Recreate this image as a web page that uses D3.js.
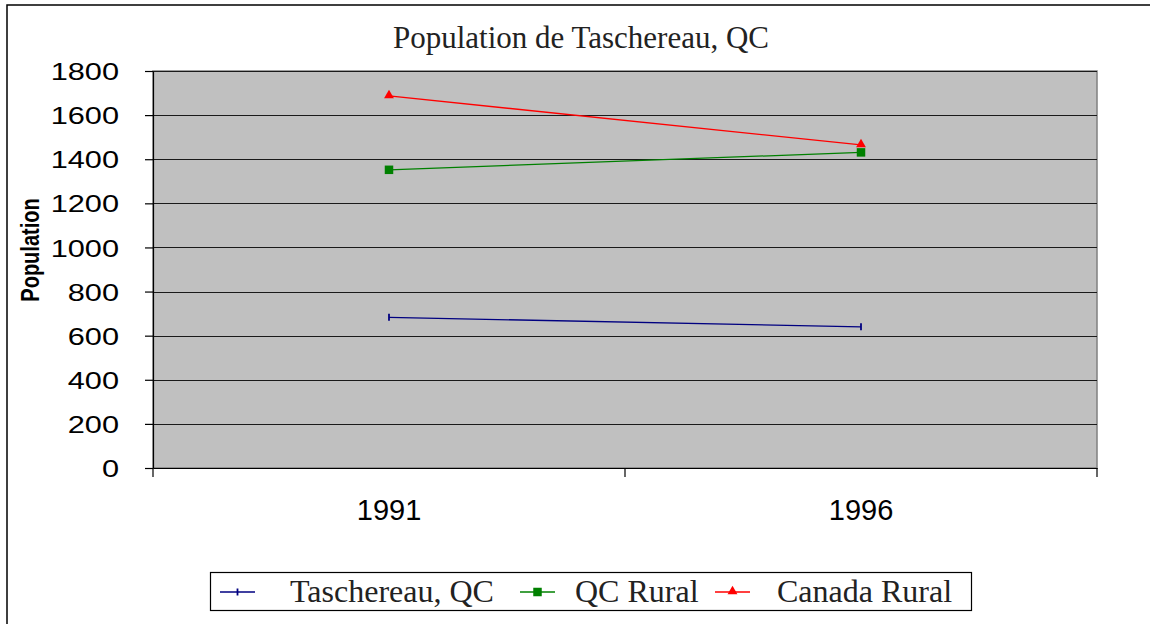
<!DOCTYPE html>
<html><head><meta charset="utf-8">
<script src="https://cdn.jsdelivr.net/npm/d3@7"></script>
<style>html,body{margin:0;padding:0;background:#fff;}svg{display:block;}</style>
</head><body>
<svg id="c" width="1150" height="624"></svg>
<script>
const categories = ["1991", "1996"];
const taschereau = [683, 640];
const qcRural = [1352, 1431];
const canadaRural = [1687, 1465];
const yTicks = [0, 200, 400, 600, 800, 1000, 1200, 1400, 1600, 1800];
const seriesNames = ["Taschereau, QC", "QC Rural", "Canada Rural"];
const titleText = "Population de Taschereau, QC";
const yTitle = "Population";

const svg = d3.select("#c");
const W = 1150, H = 624;
const m = {left: 153, right: 1097, top: 71, bottom: 468};

svg.append("rect").attr("width", W).attr("height", H).attr("fill", "#fff");
// outer chart border
svg.append("rect").attr("x", 7).attr("y", 5).attr("width", 1200).attr("height", 700)
  .attr("fill", "none").attr("stroke", "#000").attr("stroke-width", 1.5);

const x = d3.scaleBand().domain(categories).range([m.left, m.right]).padding(0);
const y = d3.scaleLinear().domain([0, 1800]).range([m.bottom, m.top]);

// plot area
svg.append("rect").attr("x", m.left).attr("y", m.top)
  .attr("width", m.right - m.left).attr("height", m.bottom - m.top)
  .attr("fill", "#C0C0C0").attr("stroke", "#808080").attr("stroke-width", 1.5);

// gridlines
svg.append("g").selectAll("line").data(yTicks.filter(d => d > 0)).join("line")
  .attr("x1", m.left).attr("x2", m.right)
  .attr("y1", d => Math.round(y(d)) + 0.5).attr("y2", d => Math.round(y(d)) + 0.5)
  .attr("stroke", "#1a1a1a").attr("stroke-width", 1.2);

// y axis
const yAxis = svg.append("g").attr("transform", `translate(${m.left},0)`)
  .call(d3.axisLeft(y).tickValues(yTicks).tickFormat(d3.format("d"))
    .tickSize(8).tickPadding(26).tickSizeOuter(0));
yAxis.select(".domain").attr("stroke", "#000").attr("stroke-width", 1.2);
yAxis.selectAll(".tick line").attr("stroke", "#000").attr("stroke-width", 1.2);
yAxis.selectAll(".tick text")
  .attr("font-family", "'Liberation Sans', Arial, sans-serif").attr("font-size", 24)
  .attr("fill", "#000").attr("dy", "0.36em")
  .each(function() {
    const w = this.getComputedTextLength();
    d3.select(this).attr("textLength", w * 1.28).attr("lengthAdjust", "spacingAndGlyphs");
  });

// x axis
const xAxis = svg.append("g").attr("transform", `translate(0,${m.bottom})`)
  .call(d3.axisBottom(x).tickSize(0).tickPadding(31));
xAxis.select(".domain").attr("stroke", "#000").attr("stroke-width", 1.2);
xAxis.selectAll(".tick text")
  .attr("font-family", "'Liberation Sans', Arial, sans-serif").attr("font-size", 29)
  .attr("fill", "#000");
// boundary ticks between categories
const bounds = [x.range()[0]].concat(categories.map(c => x(c) + x.bandwidth()));
xAxis.selectAll(".bt").data(bounds).join("line").attr("class", "bt")
  .attr("x1", d => d).attr("x2", d => d).attr("y1", 0).attr("y2", 9)
  .attr("stroke", "#000").attr("stroke-width", 1.2);

// title
svg.append("text").attr("x", 581).attr("y", 48).attr("text-anchor", "middle")
  .attr("font-family", "'Liberation Serif', 'Times New Roman', serif").attr("font-size", 31)
  .attr("fill", "#222").text(titleText);

// y title (glyphs widened horizontally like the reference)
svg.append("text").attr("transform", "translate(39,250) scale(1.3,1) rotate(-90)")
  .attr("text-anchor", "middle")
  .attr("font-family", "'Liberation Sans', Arial, sans-serif").attr("font-size", 20)
  .attr("font-weight", "bold").attr("fill", "#000").text(yTitle);

const colors = ["#000080", "#008000", "#FF0000"];
const data = [taschereau, qcRural, canadaRural];
const cx = c => x(c) + x.bandwidth() / 2;
const line = d3.line().x((d, i) => cx(categories[i])).y(d => y(d));

function marker(g, k, px, py) {
  if (k === 0) {
    g.append("line").attr("x1", px).attr("x2", px).attr("y1", py - 3.5).attr("y2", py + 3.5)
      .attr("stroke", colors[0]).attr("stroke-width", 1.8);
  } else if (k === 1) {
    g.append("rect").attr("x", px - 4.25).attr("y", py - 4.25).attr("width", 8.5).attr("height", 8.5)
      .attr("fill", colors[1]);
  } else {
    g.append("path").attr("d", d3.symbol(d3.symbolTriangle, 42)())
      .attr("transform", `translate(${px},${py - 0.5})`).attr("fill", colors[2]);
  }
}

data.forEach((vals, k) => {
  const g = svg.append("g");
  g.append("path").datum(vals).attr("d", line).attr("fill", "none")
    .attr("stroke", colors[k]).attr("stroke-width", 1.3);
  vals.forEach((v, i) => marker(g, k, cx(categories[i]), y(v)));
});

// legend
const lg = svg.append("g");
lg.append("rect").attr("x", 210.5).attr("y", 572.5).attr("width", 761).attr("height", 38)
  .attr("fill", "#fff").attr("stroke", "#000").attr("stroke-width", 1.2);
const legX = [220, 520, 715];
const legTextX = [290, 575, 777];
seriesNames.forEach((name, k) => {
  const g = lg.append("g");
  g.append("line").attr("x1", legX[k]).attr("x2", legX[k] + 35).attr("y1", 592).attr("y2", 592)
    .attr("stroke", colors[k]).attr("stroke-width", 1.3);
  marker(g, k, legX[k] + 17.5, 592);
  g.append("text").attr("x", legTextX[k]).attr("y", 602)
    .attr("font-family", "'Liberation Serif', 'Times New Roman', serif").attr("font-size", 32)
    .attr("fill", "#222").text(name);
});
</script>
</body></html>
